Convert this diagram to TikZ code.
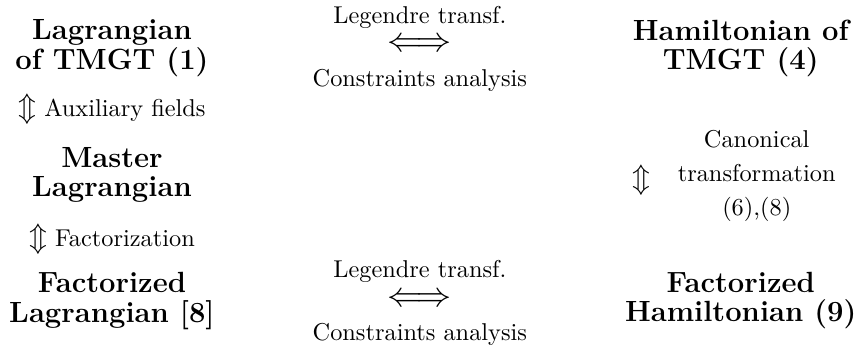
\documentclass[tikz,border=0pt]{standalone}
\usepackage{amsmath}
\usepackage{amssymb}
\usepackage{tikz}
\usetikzlibrary{positioning}

\begin{document}
\begin{tikzpicture}[inner sep=0pt,
    title/.style={align=center,font=\fontsize{12}{12}\selectfont\bfseries},
    lbl/.style={align=center,font=\fontsize{10}{14}\selectfont}]

    \useasboundingbox (0,0) rectangle (12.40,5.01);

    % Lagrangian side
    \node (lagr) at (1.616,4.315) [title] {Lagrangian\\of TMGT (1)};
    \node (aux) at (1.616,3.434) [lbl] {{\large$\Updownarrow$} Auxiliary fields};
    \node (master) at (1.616,2.482) [title] {Master\\Lagrangian};
    \node (fact) at (1.616,1.563) [lbl] {{\large$\Updownarrow$} Factorization};
    \node (flagr) at (1.616,0.664) [title] {Factorized\\Lagrangian [8]};

    % Hamiltonian side
    \node (ham) at (10.693,4.308) [title] {Hamiltonian of\\TMGT (4)};
    \node (canarr) at (9.265,2.410) [lbl] {\large$\Updownarrow$};
    \node (canon) at (10.924,2.468) [lbl] {Canonical\\transformation\\(6),(8)};
    \node (fham) at (10.693,0.671) [title] {Factorized\\Hamiltonian (9)};

    % top link
    \node (toparr) at (6.061,4.358) [lbl] {\Large$\Longleftrightarrow$};
    \node (topleg) at (6.061,4.762) [lbl] {Legendre transf.};
    \node (topcon) at (6.061,3.853) [lbl] {Constraints analysis};
    % bottom link
    \node (botarr) at (6.061,0.678) [lbl] {\Large$\Longleftrightarrow$};
    \node (botleg) at (6.061,1.097) [lbl] {Legendre transf.};
    \node (botcon) at (6.061,0.188) [lbl] {Constraints analysis};

\end{tikzpicture}
\end{document}
